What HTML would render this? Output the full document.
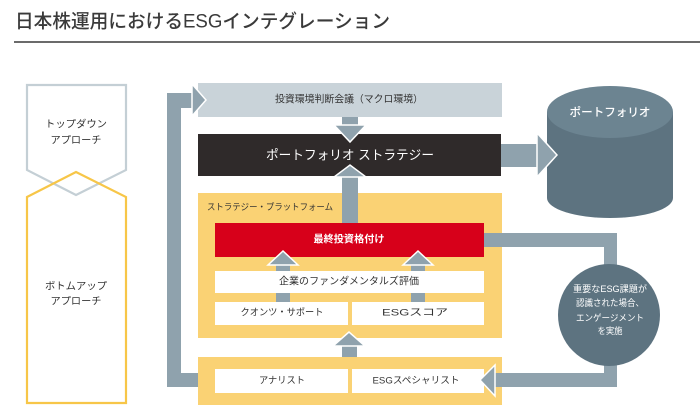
<!DOCTYPE html>
<html><head><meta charset="utf-8">
<style>
html,body{margin:0;padding:0;background:#fff;}
svg{display:block;}
text{font-family:"Liberation Sans","Noto Sans CJK JP",sans-serif;}
</style></head>
<body>
<svg width="700" height="410" viewBox="0 0 700 410" xmlns="http://www.w3.org/2000/svg">
<!-- title -->
<text x="15" y="22" font-size="19" fill="#3a3a3a" font-weight="500" dominant-baseline="central" textLength="375" lengthAdjust="spacingAndGlyphs">日本株運用におけるESGインテグレーション</text>
<rect x="14" y="41" width="686" height="2" fill="#6b6b6b"/>

<!-- left pentagons -->
<polygon points="27,85 126,85 126,170 76,195 27,170" fill="none" stroke="#c4cfd5" stroke-width="2.2"/>
<polygon points="27,197 76,172 126,197 126,403 27,403" fill="none" stroke="#f7c648" stroke-width="2.2"/>
<text x="76" y="125" font-size="10" fill="#333" text-anchor="middle" dominant-baseline="central" textLength="62" lengthAdjust="spacingAndGlyphs">トップダウン</text>
<text x="76" y="141" font-size="10" fill="#333" text-anchor="middle" dominant-baseline="central" textLength="51" lengthAdjust="spacingAndGlyphs">アプローチ</text>
<text x="76" y="287" font-size="10" fill="#333" text-anchor="middle" dominant-baseline="central" textLength="62" lengthAdjust="spacingAndGlyphs">ボトムアップ</text>
<text x="76" y="302" font-size="10" fill="#333" text-anchor="middle" dominant-baseline="central" textLength="51" lengthAdjust="spacingAndGlyphs">アプローチ</text>

<!-- top gray box -->
<rect x="198" y="83" width="304" height="34" fill="#c9d3d9"/>
<text x="349" y="100" font-size="10" fill="#333" text-anchor="middle" dominant-baseline="central" textLength="148" lengthAdjust="spacingAndGlyphs">投資環境判断会議（マクロ環境）</text>

<!-- black box -->
<rect x="198" y="134" width="303" height="42" fill="#2f2a2a"/>
<text x="350" y="155" font-size="13" fill="#fff" text-anchor="middle" dominant-baseline="central" textLength="168" lengthAdjust="spacingAndGlyphs">ポートフォリオ ストラテジー</text>

<!-- platform yellow -->
<rect x="198" y="193" width="304" height="145" fill="#fad274"/>
<text x="207" y="207" font-size="9" fill="#333" dominant-baseline="central" textLength="126" lengthAdjust="spacingAndGlyphs">ストラテジー・プラットフォーム</text>

<!-- lower yellow -->
<rect x="198" y="357" width="304" height="48" fill="#fad274"/>

<!-- left L arrow -->
<polygon points="198,373 181,373 181,108 193,108 193,93 167,93 167,387 198,387" fill="#8fa2ad"/>
<polygon points="192,84 206,100 192,116" fill="#8fa2ad" stroke="#fff" stroke-width="1.5"/>

<!-- down arrow gray->black -->
<rect x="342" y="117" width="16" height="10" fill="#8fa2ad"/>
<polygon points="334,125 366,125 350,142" fill="#8fa2ad" stroke="#fff" stroke-width="1.5"/>

<!-- up arrow platform->black -->
<rect x="342" y="176" width="16" height="48" fill="#8fa2ad"/>
<polygon points="334,177 366,177 350,165" fill="#8fa2ad" stroke="#fff" stroke-width="1.5"/>

<!-- arrow to cylinder -->
<rect x="501" y="144" width="37" height="23" fill="#8fa2ad"/>

<!-- cylinder -->
<path d="M547,112 L547,198 A63,20 0 0 0 673,198 L673,112 Z" fill="#5d7380"/>
<ellipse cx="610" cy="112" rx="63" ry="26" fill="#6c8491"/>
<text x="610" y="113" font-size="11.5" fill="#fff" font-weight="500" text-anchor="middle" dominant-baseline="central" textLength="81" lengthAdjust="spacingAndGlyphs">ポートフォリオ</text>
<polygon points="537,133 537,177 557,155" fill="#8fa2ad" stroke="#fff" stroke-width="1.5"/>

<!-- engagement path -->
<polygon points="484,233 617,233 617,387 494,387 494,373 604,373 604,247 484,247" fill="#8fa2ad"/>
<circle cx="609" cy="315" r="51" fill="#5d7380"/>
<text x="610" y="289" font-size="9" fill="#fff" text-anchor="middle" dominant-baseline="central" textLength="74" lengthAdjust="spacingAndGlyphs">重要なESG課題が</text>
<text x="610" y="303" font-size="9" fill="#fff" text-anchor="middle" dominant-baseline="central" textLength="68" lengthAdjust="spacingAndGlyphs">認識された場合、</text>
<text x="610" y="318" font-size="9" fill="#fff" text-anchor="middle" dominant-baseline="central" textLength="68" lengthAdjust="spacingAndGlyphs">エンゲージメント</text>
<text x="610" y="331" font-size="9" fill="#fff" text-anchor="middle" dominant-baseline="central" textLength="25" lengthAdjust="spacingAndGlyphs">を実施</text>

<!-- red box -->
<rect x="215" y="223" width="269" height="34" fill="#d7001a"/>
<text x="349" y="240" font-size="10" fill="#fff" font-weight="bold" text-anchor="middle" dominant-baseline="central" textLength="71" lengthAdjust="spacingAndGlyphs">最終投資格付け</text>

<!-- small up arrows shafts -->
<rect x="276" y="264" width="14" height="38" fill="#8fa2ad"/>
<rect x="411" y="264" width="14" height="38" fill="#8fa2ad"/>
<polygon points="268,265 298,265 283,251" fill="#8fa2ad" stroke="#fff" stroke-width="1.5"/>
<polygon points="403,265 433,265 418,251" fill="#8fa2ad" stroke="#fff" stroke-width="1.5"/>

<!-- white boxes -->
<rect x="215" y="271" width="269" height="22" fill="#fff"/>
<text x="349" y="282" font-size="10" fill="#333" text-anchor="middle" dominant-baseline="central" textLength="140" lengthAdjust="spacingAndGlyphs">企業のファンダメンタルズ評価</text>
<rect x="215" y="302" width="133" height="23" fill="#fff"/>
<text x="282" y="313" font-size="9.5" fill="#333" text-anchor="middle" dominant-baseline="central" textLength="83" lengthAdjust="spacingAndGlyphs">クオンツ・サポート</text>
<rect x="352" y="302" width="132" height="23" fill="#fff"/>
<text x="415" y="313" font-size="9.5" fill="#333" text-anchor="middle" dominant-baseline="central" textLength="66" lengthAdjust="spacingAndGlyphs">ESGスコア</text>

<!-- middle up arrow -->
<rect x="342" y="345" width="15" height="12" fill="#8fa2ad"/>
<polygon points="333,346 365,346 349,332" fill="#8fa2ad" stroke="#fff" stroke-width="1.5"/>

<!-- bottom white boxes -->
<rect x="215" y="369" width="133" height="24" fill="#fff"/>
<text x="282" y="381" font-size="9.5" fill="#333" text-anchor="middle" dominant-baseline="central" textLength="46" lengthAdjust="spacingAndGlyphs">アナリスト</text>
<rect x="352" y="369" width="132" height="24" fill="#fff"/>
<text x="416" y="381" font-size="9.5" fill="#333" text-anchor="middle" dominant-baseline="central" textLength="87" lengthAdjust="spacingAndGlyphs">ESGスペシャリスト</text>

<!-- left arrowhead into ESG specialist -->
<polygon points="495,365 495,396 480,380" fill="#8fa2ad" stroke="#fff" stroke-width="1.5"/>
</svg>
</body></html>
